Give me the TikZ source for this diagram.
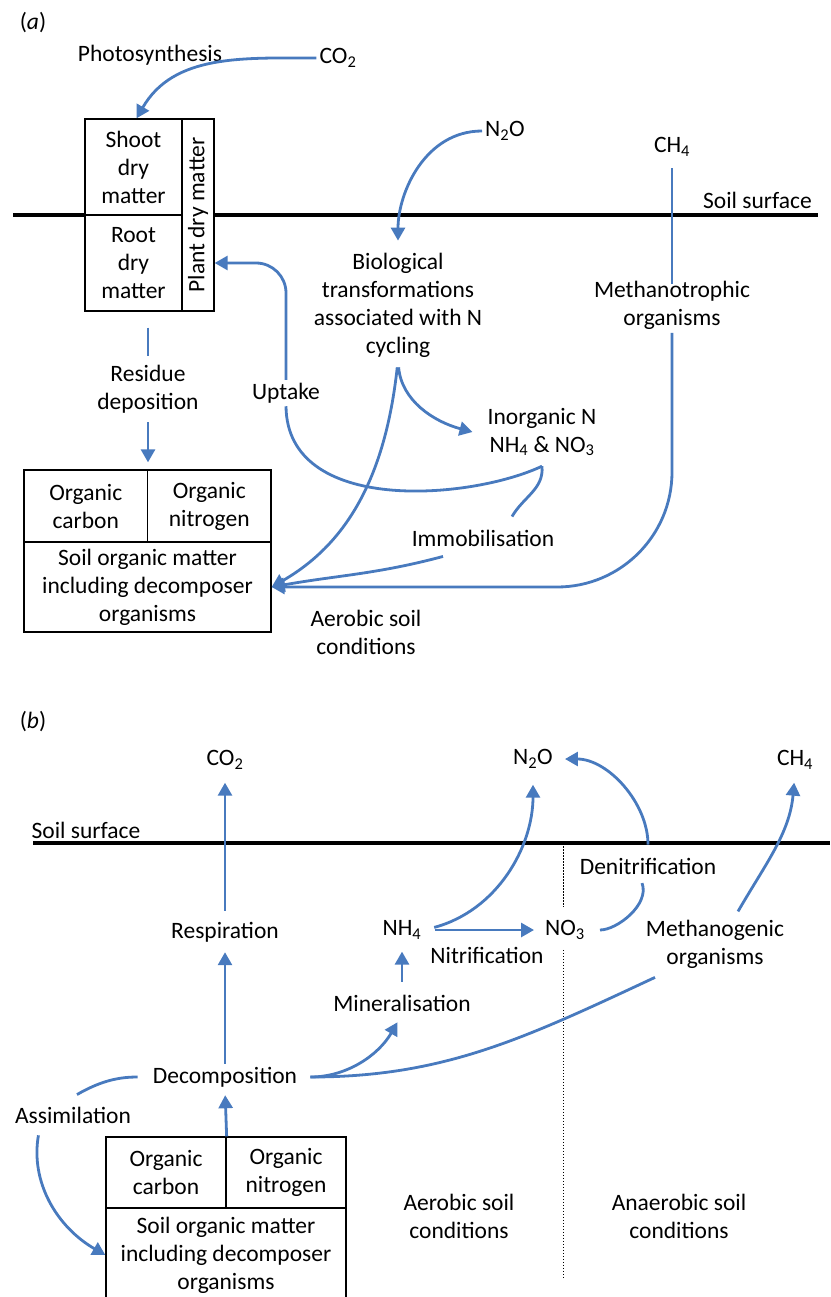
\documentclass[tikz,border=0pt]{standalone}
\usepackage{fontspec}
\usepackage{graphicx}
\setmainfont{Carlito}
\usetikzlibrary{arrows.meta,calc}
\definecolor{flowblue}{RGB}{72,122,190}
\newcommand{\fs}{\fontsize{23.5}{28}\selectfont}
\tikzset{
  lbl/.style={font=\fs, align=center, inner sep=3pt},
  cell/.style={draw, line width=1.3pt, fill=white, align=center, inner sep=0pt, font=\fs},
  flow/.style={draw=flowblue, line width=2.8pt, -{Triangle[length=13pt,width=14pt]}},
  flowline/.style={draw=flowblue, line width=2.8pt},
  ground/.style={line width=3.4pt},
  zone/.style={line width=1pt, dash pattern=on 1.5pt off 1.5pt}
}
\begin{document}
\begin{tikzpicture}[x=1pt,y=1pt]
 \useasboundingbox (0,0) rectangle (830,-1297);
 \node[lbl] (taga) at (33,-23) {(\textit{a})};
 \node[lbl] (photo) at (150,-55) {Photosynthesis};
 \node[lbl] (co2a) at (338,-58) {CO\textsubscript{2}};
 \draw[ground] (13,-215) -- (818,-215);
 \node[lbl, anchor=east] (surfa) at (815,-200) {Soil surface};
 \node[cell, minimum width=97, minimum height=96] (shoot) at (133.5,-167) {Shoot\\dry\\matter};
 \node[cell, minimum width=97, minimum height=96] (root) at (133.5,-263) {Root\\dry\\matter};
 \node[cell, minimum width=32, minimum height=192] (plant) at (198,-215) {\rotatebox{90}{Plant dry matter}};
 \node[lbl] (n2oa) at (505,-131) {N\textsubscript{2}O};
 \node[lbl] (bio) at (398,-305) {Biological\\transformations\\associated with N\\cycling};
 \node[lbl] (ch4a) at (672,-147) {CH\textsubscript{4}};
 \node[lbl] (mtroph) at (672,-305.5) {Methanotrophic\\organisms};
 \node[lbl] (inorg) at (542,-432) {Inorganic N\\NH\textsubscript{4} \& NO\textsubscript{3}};
 \node[lbl] (uptake) at (286,-393) {Uptake};
 \node[lbl] (immob) at (483,-538) {Immobilisation};
 \node[lbl] (residue) at (148,-389) {Residue\\deposition};
 \node[cell, minimum width=123.5, minimum height=72] (orgca) at (85.75,-506) {Organic\\carbon};
 \node[cell, minimum width=123.5, minimum height=72] (orgna) at (209.25,-506) {Organic\\nitrogen};
 \node[cell, minimum width=247, minimum height=90] (soma) at (147.5,-587) {Soil organic matter\\including decomposer\\organisms};
 \node[lbl] (aeroa) at (366,-632.5) {Aerobic soil\\conditions};
 \coordinate (cusp) at ([yshift=-7pt]inorg.south);
 \draw[flow] (co2a.west) to[out=180,in=60] ([xshift=3pt]shoot.north);
 \draw[flow, shorten >=9pt] (n2oa.west) to[out=180,in=90] (bio.north);
 \draw[flowline, shorten <=-6pt, shorten >=8pt] (mtroph.north) -- (ch4a.south);
 \draw[flow, rounded corners=115] (mtroph.south) |- (soma.east);
 \draw[flow, shorten <=7pt] (bio.south) to[out=-85,in=165] ([xshift=-12pt]inorg.west);
 \draw[flow, shorten <=7pt] (bio.south) .. controls (385,-480) and (345,-545) .. (soma.east);
 \draw[flowline] (cusp) .. controls (470,-500) and (287,-515) .. (uptake.south);
 \draw[flow, rounded corners=30] (uptake.north) |- (root -| plant.east);
 \draw[flowline] (cusp) to[out=-85,in=60] ([shift={(29pt,10pt)}]immob.north);
 \draw[flow] ([shift={(-40pt,-7pt)}]immob.south) to[out=195,in=10] (soma.east);
 \draw[flowline, shorten <=16pt, shorten >=6pt] (residue.north |- root.south) -- (residue.north);
 \draw[flow, shorten <=6pt, shorten >=7pt] (residue.south) -- (residue.south |- orgca.north);

 \node[lbl] (tagb) at (33,-722) {(\textit{b})};
 \node[lbl] (co2b) at (225,-760) {CO\textsubscript{2}};
 \node[lbl] (n2ob) at (533,-759) {N\textsubscript{2}O};
 \node[lbl] (ch4b) at (795,-760) {CH\textsubscript{4}};
 \node[lbl] (surfb) at (86,-830) {Soil surface};
 \draw[ground] (33,-843) -- (830,-843);
 \node[lbl] (resp) at (225,-932) {Respiration};
 \node[lbl] (nh4) at (402,-930) {NH\textsubscript{4}};
 \node[lbl] (no3) at (565,-930) {NO\textsubscript{3}};
 \node[lbl] (nitrif) at (487,-955) {Nitrification};
 \node[lbl] (denit) at (648,-866) {Denitrification};
 \node[lbl] (mgen) at (715,-944) {Methanogenic\\organisms};
 \node[lbl] (miner) at (402,-1003) {Mineralisation};
 \node[lbl] (decomp) at (225,-1077) {Decomposition};
 \node[lbl] (assim) at (73,-1115) {Assimilation};
 \node[cell, minimum width=120, minimum height=71] (orgcb) at (166,-1172.5) {Organic\\carbon};
 \node[cell, minimum width=120, minimum height=71] (orgnb) at (286,-1172.5) {Organic\\nitrogen};
 \node[cell, minimum width=240, minimum height=94] (somb) at (226,-1255) {Soil organic matter\\including decomposer\\organisms};
 \node[lbl] (aerob) at (459,-1216) {Aerobic soil\\conditions};
 \node[lbl] (anaerob) at (679,-1216) {Anaerobic soil\\conditions};
 \coordinate (zonetop) at (563,-846);
 \coordinate (zonebot) at (563,-1277);
 \draw[zone, shorten >=10pt] (zonetop) -- (zonetop |- no3.north);
 \draw[zone, shorten <=7pt] (zonetop |- no3.south) -- (zonebot);
 \draw[flow, shorten <=8pt, shorten >=10pt] (resp.north) -- (co2b.south);
 \draw[flow, shorten >=7pt] (decomp.north) -- (resp.south);
 \draw[flow, shorten >=5pt] (orgcb.north east) -- (decomp.south);
 \draw[flow, shorten <=10pt, shorten >=9pt] (decomp.east) to[out=0,in=240] (miner.south);
 \draw[flowline, shorten <=10pt] (decomp.east) to[out=0,in=205] ([shift={(-60pt,-6pt)}]mgen.south);
 \draw[flow, shorten <=10pt, shorten >=9pt] (miner.north) -- (nh4.south);
 \draw[flow, shorten <=10pt, shorten >=8pt] (nh4.east) -- (no3.west);
 \draw[flow, shorten <=10pt, shorten >=13pt] (nh4.east) to[out=15,in=-90] (n2ob.south);
 \draw[flowline, shorten <=12pt, shorten >=6pt] (no3.east) to[out=0,in=-70] ([xshift=-8pt]denit.south);
 \draw[flow, shorten <=10pt, shorten >=9pt] (denit.north) to[out=90,in=0] (n2ob.east);
 \draw[flow, shorten <=6pt, shorten >=10pt] ([xshift=20pt]mgen.north) to[out=60,in=-95] (ch4b.south);
 \draw[flowline, shorten <=12pt] (decomp.west) to[out=180,in=30] ([shift={(4pt,9pt)}]assim.north);
 \draw[flow, shorten <=9pt] ([xshift=-33pt]assim.south) to[out=-100,in=150] (somb.west);
\end{tikzpicture}
\end{document}
